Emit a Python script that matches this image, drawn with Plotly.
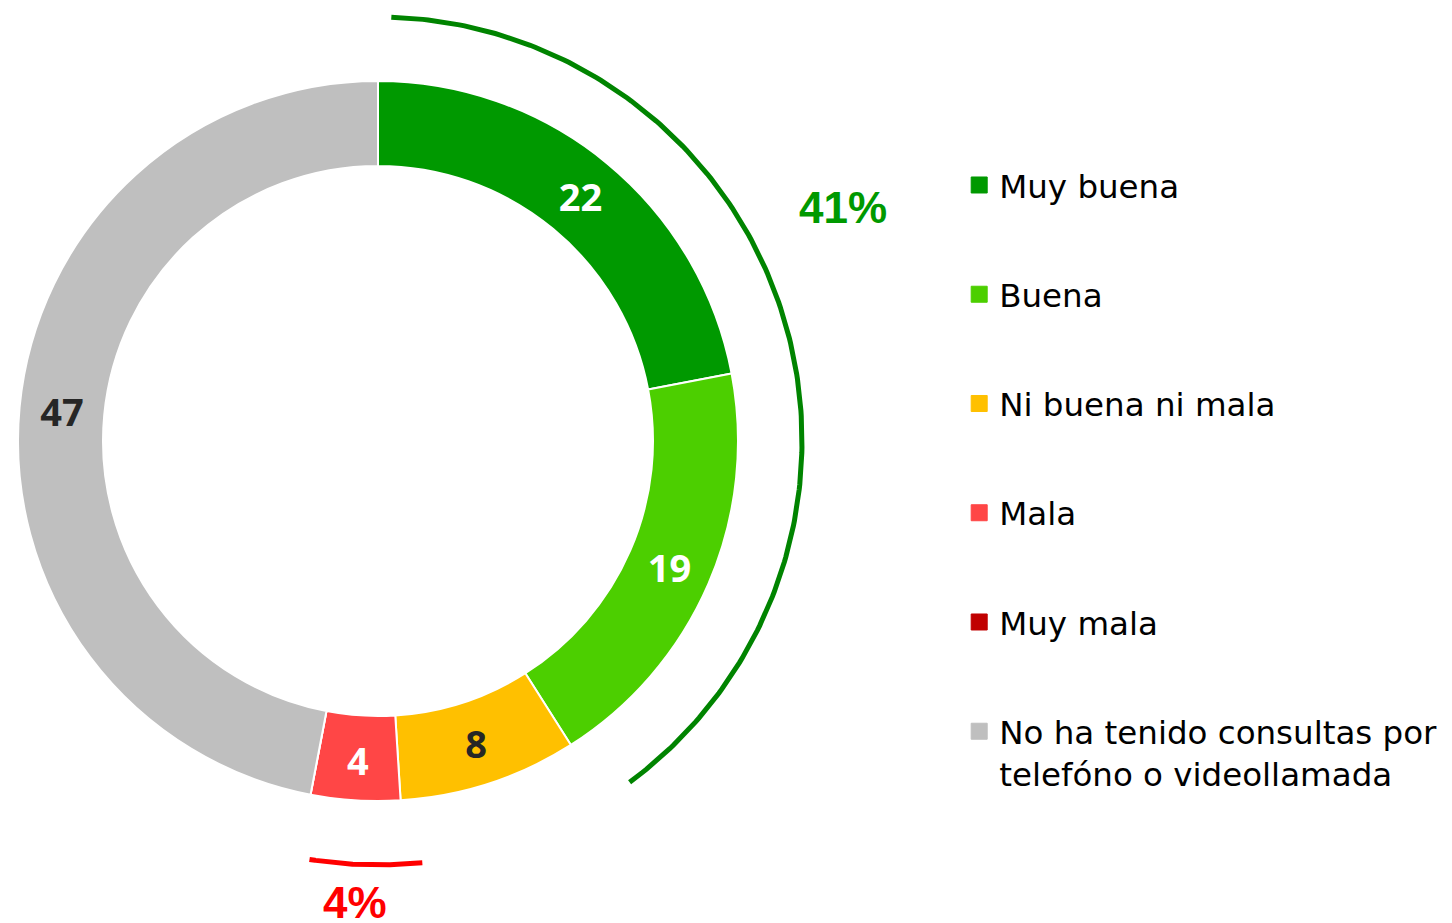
import numpy as np
import plotly.graph_objects as go

# Survey shares (%) by rating
categories = ["Muy buena", "Buena", "Ni buena ni mala", "Mala", "Muy mala",
              "No ha tenido consultas por<br>telefóno o videollamada"]
values = [22, 19, 8, 4, 0, 47]
colors = ["#009900", "#4ccf00", "#ffc000", "#ff4646", "#c00000", "#bfbfbf"]
label_colors = ["#ffffff", "#ffffff", "#262626", "#ffffff", "#ffffff", "#262626"]

positive_idx = [0, 1]   # grouped as positive
negative_idx = [3, 4]   # grouped as negative

W, H = 1452, 923
CX, CY, R = 378, 441, 360      # donut centre / outer radius (px)
ARC_R = 424                    # radius of the summary arcs

total = sum(values)
cum = np.concatenate([[0], np.cumsum(values)]) / total * 360.0


def arc_xy(a0, a1, r):
    t = np.radians(np.linspace(a0, a1, 200))
    return CX + r * np.sin(t), CY - r * np.cos(t)


fig = go.Figure()

fig.add_trace(go.Pie(
    values=values,
    labels=categories,
    marker=dict(colors=colors, line=dict(color="white", width=2)),
    hole=275 / 360,
    sort=False,
    direction="clockwise",
    rotation=0,
    texttemplate=["%{value}" if v > 0 else "" for v in values],
    textposition="inside",
    insidetextorientation="horizontal",
    textfont=dict(family="Open Sans", size=38, color=label_colors, weight="bold"),
    hoverinfo="label+value",
    showlegend=False,
    domain=dict(x=[(CX - R) / W, (CX + R) / W],
                y=[1 - (CY + R) / H, 1 - (CY - R) / H]),
))

# summary arcs
pos_share = sum(values[i] for i in positive_idx)
neg_share = sum(values[i] for i in negative_idx)

gx, gy = arc_xy(cum[positive_idx[0]] + 1.8, cum[positive_idx[-1] + 1] - 4.0, ARC_R)
fig.add_trace(go.Scatter(x=gx, y=gy, mode="lines", line=dict(color="#008400", width=5),
                         hoverinfo="skip", showlegend=False))
rx, ry = arc_xy(cum[negative_idx[0]] - 2.4, cum[negative_idx[-1] + 1] - 1.5, ARC_R)
fig.add_trace(go.Scatter(x=rx, y=ry, mode="lines", line=dict(color="#ff0000", width=5),
                         hoverinfo="skip", showlegend=False))

# legend entries
for i, (name, c) in enumerate(zip(categories, colors)):
    fig.add_trace(go.Scatter(
        x=[None], y=[None], mode="markers", name=name,
        marker=dict(symbol="square", size=16, color=c, line=dict(color=c, width=1)),
        legendgroup=f"g{i}", showlegend=True,
    ))

fig.add_annotation(x=843, y=207, xref="x", yref="y", text=f"{pos_share}%",
                   showarrow=False,
                   font=dict(family="Liberation Sans", size=44, color="#009900", weight="bold"))
fig.add_annotation(x=355, y=902, xref="x", yref="y", text=f"{neg_share}%",
                   showarrow=False,
                   font=dict(family="Liberation Sans", size=44, color="#ff0000", weight="bold"))

fig.update_layout(
    width=W, height=H,
    margin=dict(l=0, r=0, t=0, b=0),
    paper_bgcolor="white", plot_bgcolor="white",
    xaxis=dict(range=[0, W], visible=False, fixedrange=True),
    yaxis=dict(range=[H, 0], visible=False, fixedrange=True),
    legend=dict(
        x=0.6606, y=0.8295, xanchor="left", yanchor="top",
        font=dict(family="DejaVu Sans", size=32.5, color="#000000"),
        tracegroupgap=64, valign="top", bgcolor="rgba(0,0,0,0)",
    ),
    showlegend=True,
)

fig.write_html("out.html")
